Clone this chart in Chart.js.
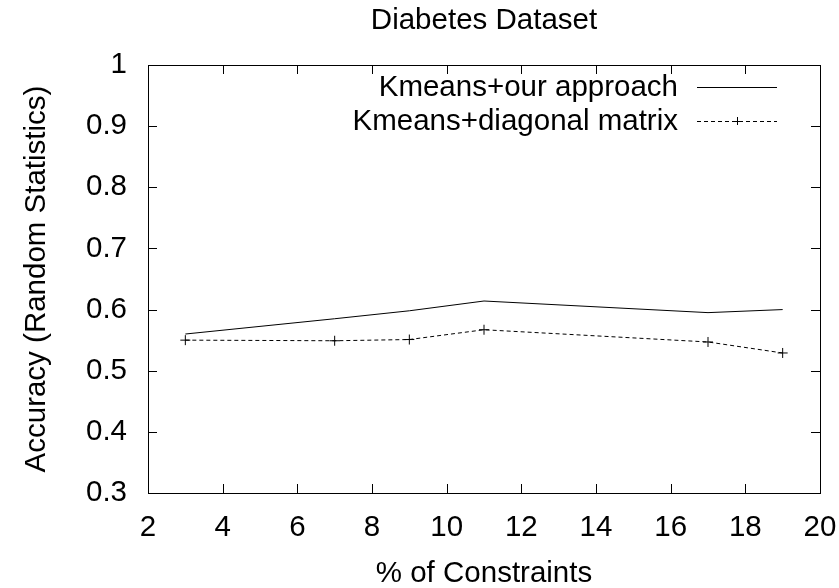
<!DOCTYPE html>
<html>
<head>
<meta charset="utf-8">
<script src="https://cdn.jsdelivr.net/npm/chart.js@4.4.1/dist/chart.umd.min.js"></script>
<style>
  html, body { margin: 0; padding: 0; background: #fff; }
  #wrap { width: 839px; height: 588px; }
</style>
</head>
<body>
<div id="wrap"><canvas id="acc-chart" width="839" height="588"></canvas></div>
<script>
// % of constraints
const constraints = [3, 7, 9, 11, 17, 19];
// accuracy for each method
const ourApproach = [0.560, 0.585, 0.598, 0.614, 0.595, 0.600];
const diagonalMatrix = [0.550, 0.549, 0.551, 0.567, 0.547, 0.529];

const seriesNames = ["Kmeans+our approach", "Kmeans+diagonal matrix"];
const chartTitle = "Diabetes Dataset";

const FONT = "'Liberation Sans', Arial, sans-serif";
const FSIZE = 29.5;

// gnuplot style frame: border plus inward ticks on all four sides
const frameTicks = {
    id: 'frameTicks',
    afterDatasetsDraw(chart) {
        const { ctx, chartArea: a, scales } = chart;
        ctx.save();
        ctx.strokeStyle = '#000';
        ctx.lineWidth = 1;
        const len = 9;
        ctx.beginPath();
        scales.x.ticks.forEach(t => {
            const px = Math.round(scales.x.getPixelForValue(t.value)) + 0.5;
            ctx.moveTo(px, a.bottom); ctx.lineTo(px, a.bottom - len);
            ctx.moveTo(px, a.top); ctx.lineTo(px, a.top + len);
        });
        scales.y.ticks.forEach(t => {
            const py = Math.round(scales.y.getPixelForValue(t.value)) + 0.5;
            ctx.moveTo(a.left, py); ctx.lineTo(a.left + len, py);
            ctx.moveTo(a.right, py); ctx.lineTo(a.right - len, py);
        });
        ctx.stroke();
        ctx.strokeRect(Math.round(a.left) + 0.5, Math.round(a.top) + 0.5,
            Math.round(a.right - a.left), Math.round(a.bottom - a.top));

        // title over the plot area
        ctx.fillStyle = '#000';
        ctx.font = FSIZE + 'px ' + FONT;
        ctx.textAlign = 'center';
        ctx.textBaseline = 'middle';
        ctx.fillText(chartTitle, (a.left + a.right) / 2, 21);

        // key in the top right corner
        ctx.textAlign = 'right';
        const rows = [87, 121];
        chart.data.datasets.forEach((ds, i) => {
            const y = rows[i];
            ctx.fillText(ds.label, 678, y + 1);
            ctx.beginPath();
            ctx.setLineDash(ds.borderDash || []);
            ctx.moveTo(697, y + 0.5); ctx.lineTo(777, y + 0.5);
            ctx.stroke();
            ctx.setLineDash([]);
            if (ds.pointRadius > 0) {
                ctx.beginPath();
                ctx.moveTo(737 - 4, y + 0.5); ctx.lineTo(737 + 4, y + 0.5);
                ctx.moveTo(737.5, y - 4); ctx.lineTo(737.5, y + 4);
                ctx.stroke();
            }
        });
        ctx.restore();
    }
};

new Chart(document.getElementById('acc-chart'), {
    type: 'line',
    data: {
        datasets: [{
            label: seriesNames[0],
            data: constraints.map((c, i) => ({ x: c, y: ourApproach[i] })),
            borderColor: '#000',
            borderWidth: 1,
            pointRadius: 0,
            tension: 0,
            fill: false
        }, {
            label: seriesNames[1],
            data: constraints.map((c, i) => ({ x: c, y: diagonalMatrix[i] })),
            borderColor: '#000',
            borderWidth: 1,
            borderDash: [4, 3],
            pointStyle: 'cross',
            pointRadius: 5,
            pointBorderColor: '#000',
            pointBorderWidth: 1,
            tension: 0,
            fill: false
        }]
    },
    options: {
        responsive: false,
        animation: false,
        layout: { padding: { top: 65, right: 19, left: 0, bottom: 0 } },
        plugins: {
            legend: { display: false },
            title: { display: false },
            tooltip: { enabled: false }
        },
        scales: {
            x: {
                type: 'linear',
                min: 2, max: 20,
                afterFit(scale) {
                    scale.height = 95;
                    scale.paddingLeft = 0;
                    scale.paddingRight = 0;
                },
                grid: { display: false, drawTicks: false },
                border: { display: false },
                ticks: { stepSize: 2, color: '#000', padding: 17, font: { family: FONT, size: FSIZE } },
                title: { display: true, text: '% of Constraints', color: '#000',
                    font: { family: FONT, size: FSIZE }, padding: { top: 14, bottom: -4 } }
            },
            y: {
                min: 0.3, max: 1,
                afterFit(scale) {
                    scale.width = 148;
                    scale.paddingTop = 0;
                    scale.paddingBottom = 0;
                },
                grid: { display: false, drawTicks: false },
                border: { display: false },
                ticks: { stepSize: 0.1, color: '#000', padding: 21,
                    font: { family: FONT, size: FSIZE },
                    callback: v => Number(v.toFixed(1)).toString() },
                title: { display: true, text: 'Accuracy (Random Statistics)', color: '#000',
                    font: { family: FONT, size: FSIZE }, padding: { top: 19, bottom: 0 } }
            }
        }
    },
    plugins: [frameTicks]
});
</script>
</body>
</html>
